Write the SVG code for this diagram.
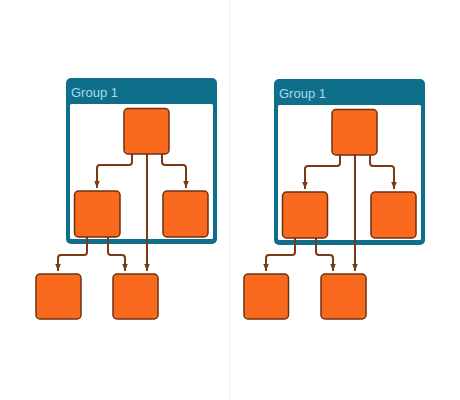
<svg xmlns="http://www.w3.org/2000/svg" width="460" height="400" viewBox="0 0 460 400">
<defs>
<style>
.grp{fill:#0f6f8b}
.inner{fill:#ffffff}
.title{font-family:"Liberation Sans",Arial,sans-serif;font-size:13px;fill:#a9dbe9}
.node{fill:#f96a1e;stroke:#6e3110;stroke-width:1.5}
.conn{fill:none;stroke:#7a3a17;stroke-width:2}
</style>
<marker id="arrow" viewBox="0 0 10 10" refX="10" refY="5" markerWidth="7" markerHeight="7" orient="auto" markerUnits="userSpaceOnUse">
<path d="M0,1 L10,5 L0,9 z" fill="#7a3a17"/>
</marker>
</defs>
<rect width="460" height="400" fill="#ffffff"/>
<line x1="229.5" y1="0" x2="229.5" y2="400" stroke="#eeeeee" stroke-width="1"/>

<g id="group1-left">
<rect class="grp" x="66" y="78" width="151" height="166" rx="5"/>
<rect class="inner" x="70" y="104" width="143" height="135" rx="1.5"/>
<text class="title" x="71" y="97">Group 1</text>
</g>
<g id="group1-right">
<rect class="grp" x="274" y="79" width="151" height="166" rx="5"/>
<rect class="inner" x="278" y="105" width="143" height="135" rx="1.5"/>
<text class="title" x="279" y="98">Group 1</text>
</g>

<g id="connectors">
<path class="conn" marker-end="url(#arrow)" d="M132,154 V162 Q132,165 129,165 H100 Q97,165 97,168 V188"/>
<path class="conn" marker-end="url(#arrow)" d="M162,154 V162 Q162,165 165,165 H183 Q186,165 186,168 V188"/>
<path class="conn" marker-end="url(#arrow)" d="M147,154 V271"/>
<path class="conn" marker-end="url(#arrow)" d="M87,237 V252 Q87,255 84,255 H61 Q58,255 58,258 V271"/>
<path class="conn" marker-end="url(#arrow)" d="M108,237 V252 Q108,255 111,255 H122 Q125,255 125,258 V271"/>

<path class="conn" marker-end="url(#arrow)" d="M340,155 V163 Q340,166 337,166 H308 Q305,166 305,169 V189"/>
<path class="conn" marker-end="url(#arrow)" d="M370,155 V163 Q370,166 373,166 H391 Q394,166 394,169 V189"/>
<path class="conn" marker-end="url(#arrow)" d="M355,155 V271"/>
<path class="conn" marker-end="url(#arrow)" d="M295,238 V252 Q295,255 292,255 H269 Q266,255 266,258 V271"/>
<path class="conn" marker-end="url(#arrow)" d="M316,238 V252 Q316,255 319,255 H330 Q333,255 333,258 V271"/>
</g>

<g id="node-l-top"><rect class="node" x="124" y="108.5" width="45" height="45.5" rx="4"/></g>
<g id="node-l-left"><rect class="node" x="74.5" y="191" width="45.5" height="46" rx="4"/></g>
<g id="node-l-right"><rect class="node" x="163" y="191" width="45" height="46" rx="4"/></g>
<g id="node-l-bl"><rect class="node" x="36" y="274" width="45" height="45" rx="4"/></g>
<g id="node-l-br"><rect class="node" x="113" y="274" width="45" height="45" rx="4"/></g>

<g id="node-r-top"><rect class="node" x="332" y="109.5" width="45" height="45.5" rx="4"/></g>
<g id="node-r-left"><rect class="node" x="282.5" y="192" width="45" height="46" rx="4"/></g>
<g id="node-r-right"><rect class="node" x="371" y="192" width="45" height="46" rx="4"/></g>
<g id="node-r-bl"><rect class="node" x="244" y="274" width="44.5" height="45" rx="4"/></g>
<g id="node-r-br"><rect class="node" x="321" y="274" width="45" height="45" rx="4"/></g>
</svg>
